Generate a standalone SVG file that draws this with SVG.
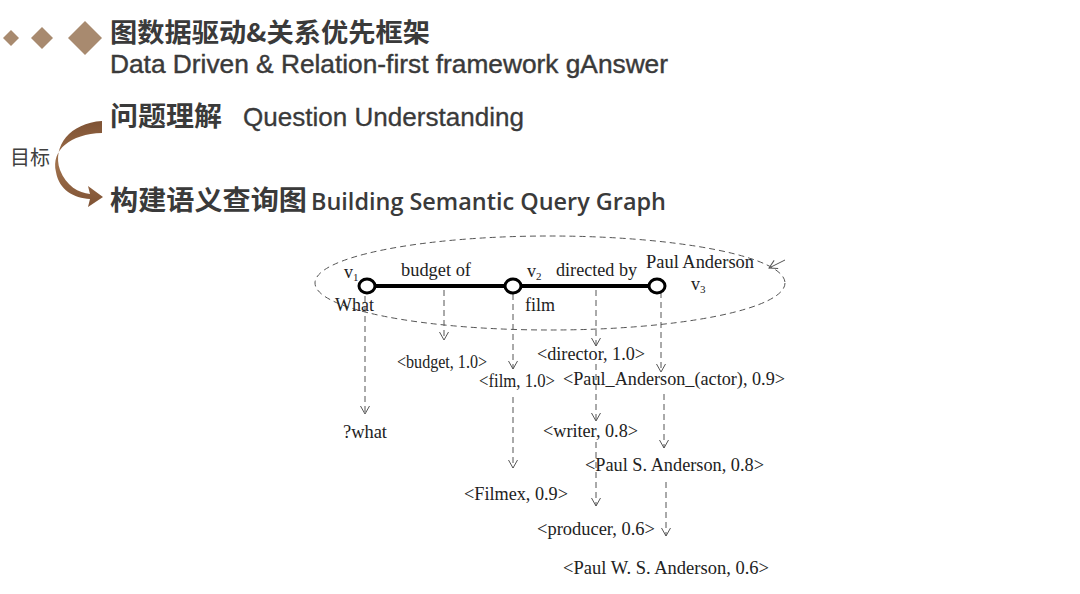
<svg xmlns="http://www.w3.org/2000/svg" width="1080" height="594" viewBox="0 0 1080 594">
<defs>
<style>
.cjk{font-family:"Noto Sans CJK SC","Liberation Sans",sans-serif;font-weight:bold;fill:#3a3a3a}
.en{font-family:"Liberation Sans","Noto Sans",sans-serif;fill:#3a3a3a}
.enb{font-family:"Open Sans","Liberation Sans",sans-serif;font-weight:600;fill:#3a3a3a}
.g{font-family:"Liberation Serif",serif;font-size:18px;fill:#222}
.sub{font-size:11px}
.dash{fill:none;stroke:#555;stroke-width:1;stroke-dasharray:6 4}
.edge{stroke:#000;stroke-width:4}
.node{fill:#fff;stroke:#000;stroke-width:3}
</style>
<marker id="ah" viewBox="-10 -6 12 12" markerWidth="12" markerHeight="12" refX="0" refY="0" orient="auto" markerUnits="userSpaceOnUse">
<path d="M-8,-4.5 L0,0 L-8,4.5" fill="none" stroke="#555" stroke-width="1"/>
</marker>
<linearGradient id="brown" x1="0" y1="0" x2="0" y2="1">
<stop offset="0" stop-color="#7e5234"/>
<stop offset="0.5" stop-color="#a0714c"/>
<stop offset="1" stop-color="#7e5234"/>
</linearGradient>
</defs>

<g id="decor">
<path d="M11,30 L19,38 L11,46 L3,38 Z" fill="#a88a6f"/>
<path d="M42,27 L53,38 L42,49 L31,38 Z" fill="#a88a6f"/>
<path d="M85,21 L102,38 L85,55 L68,38 Z" fill="#a88a6f"/>
</g>

<g id="title">
<text class="cjk" x="110" y="42" font-size="26" textLength="320" lengthAdjust="spacingAndGlyphs">图数据驱动&amp;关系优先框架</text>
<text class="en" x="110" y="73" font-size="25" textLength="558" lengthAdjust="spacingAndGlyphs" stroke="#3a3a3a" stroke-width="0.4">Data Driven &amp; Relation-first framework  gAnswer</text>
</g>

<g id="goal">
<text x="10" y="165" font-size="20" font-family="Noto Sans CJK SC,sans-serif" fill="#404040">目标</text>
<path d="M102,121 C70,123 52,146 60,170 C66,186 79,193 90,194 L88,186 L103,197 L88,207 L90,199 C74,198 59,190 56,172 C51,150 70,134 102,133 Z" fill="url(#brown)"/>
</g>

<g id="step1">
<text class="cjk" x="110" y="126" font-size="27" textLength="112" lengthAdjust="spacingAndGlyphs">问题理解</text>
<text class="en" x="243" y="126" font-size="25" textLength="281" lengthAdjust="spacingAndGlyphs" font-family="Open Sans,Liberation Sans,sans-serif" stroke="#3a3a3a" stroke-width="0.3">Question Understanding</text>
</g>

<g id="step2">
<text class="cjk" x="110" y="210" font-size="27" textLength="197" lengthAdjust="spacingAndGlyphs">构建语义查询图</text>
<text class="enb" x="311" y="210" font-size="24" textLength="355" lengthAdjust="spacingAndGlyphs">Building Semantic Query Graph</text>
</g>

<g id="connectors">
<ellipse cx="550" cy="283" rx="235" ry="47" class="dash" stroke-dasharray="8 5"/>
<line x1="367" y1="286" x2="657" y2="286" class="edge"/>
<line x1="785" y1="260" x2="769" y2="268" stroke="#555" stroke-width="1" marker-end="url(#ah)"/>
<line x1="365" y1="296" x2="365" y2="414" class="dash" marker-end="url(#ah)"/>
<line x1="444" y1="290" x2="444" y2="340" class="dash" marker-end="url(#ah)"/>
<line x1="513" y1="294" x2="513" y2="369" class="dash" marker-end="url(#ah)"/>
<line x1="513" y1="397" x2="513" y2="468" class="dash" marker-end="url(#ah)"/>
<line x1="596" y1="290" x2="596" y2="346" class="dash" marker-end="url(#ah)"/>
<line x1="596" y1="364" x2="596" y2="421" class="dash" marker-end="url(#ah)"/>
<line x1="596" y1="442" x2="596" y2="506" class="dash" marker-end="url(#ah)"/>
<line x1="661" y1="292" x2="661" y2="372" class="dash" marker-end="url(#ah)"/>
<line x1="664" y1="394" x2="664" y2="448" class="dash" marker-end="url(#ah)"/>
<line x1="666" y1="482" x2="666" y2="536" class="dash" marker-end="url(#ah)"/>
</g>

<g id="v1">
<ellipse cx="367" cy="286" rx="8" ry="7" class="node"/>
<text class="g" x="344" y="278">v<tspan class="sub" dy="3">1</tspan></text>
<text class="g" x="335" y="311" textLength="39" lengthAdjust="spacingAndGlyphs">What</text>
</g>
<g id="v2">
<ellipse cx="513" cy="286" rx="8" ry="7" class="node"/>
<text class="g" x="527" y="277">v<tspan class="sub" dy="3">2</tspan></text>
<text class="g" x="525" y="311" textLength="30" lengthAdjust="spacingAndGlyphs">film</text>
</g>
<g id="v3">
<ellipse cx="657" cy="286" rx="8" ry="7" class="node"/>
<text class="g" x="691" y="290">v<tspan class="sub" dy="3">3</tspan></text>
<text class="g" x="646" y="268" textLength="108" lengthAdjust="spacingAndGlyphs">Paul Anderson</text>
</g>
<g id="edge-labels">
<text class="g" x="401" y="276" textLength="70" lengthAdjust="spacingAndGlyphs">budget of</text>
<text class="g" x="556" y="276" textLength="81" lengthAdjust="spacingAndGlyphs">directed by</text>
</g>

<g id="candidates">
<text class="g" x="397" y="368" textLength="90" lengthAdjust="spacingAndGlyphs">&lt;budget, 1.0&gt;</text>
<text class="g" x="479" y="387" textLength="76" lengthAdjust="spacingAndGlyphs">&lt;film, 1.0&gt;</text>
<text class="g" x="537" y="360" textLength="108" lengthAdjust="spacingAndGlyphs">&lt;director, 1.0&gt;</text>
<text class="g" x="563" y="385" textLength="222" lengthAdjust="spacingAndGlyphs">&lt;Paul_Anderson_(actor), 0.9&gt;</text>
<text class="g" x="343" y="438" textLength="44" lengthAdjust="spacingAndGlyphs">?what</text>
<text class="g" x="543" y="437" textLength="95" lengthAdjust="spacingAndGlyphs">&lt;writer, 0.8&gt;</text>
<text class="g" x="585" y="471" textLength="179" lengthAdjust="spacingAndGlyphs">&lt;Paul S. Anderson, 0.8&gt;</text>
<text class="g" x="464" y="500" textLength="104" lengthAdjust="spacingAndGlyphs">&lt;Filmex, 0.9&gt;</text>
<text class="g" x="537" y="535" textLength="118" lengthAdjust="spacingAndGlyphs">&lt;producer, 0.6&gt;</text>
<text class="g" x="563" y="574" textLength="206" lengthAdjust="spacingAndGlyphs">&lt;Paul W. S. Anderson, 0.6&gt;</text>
</g>
</svg>
